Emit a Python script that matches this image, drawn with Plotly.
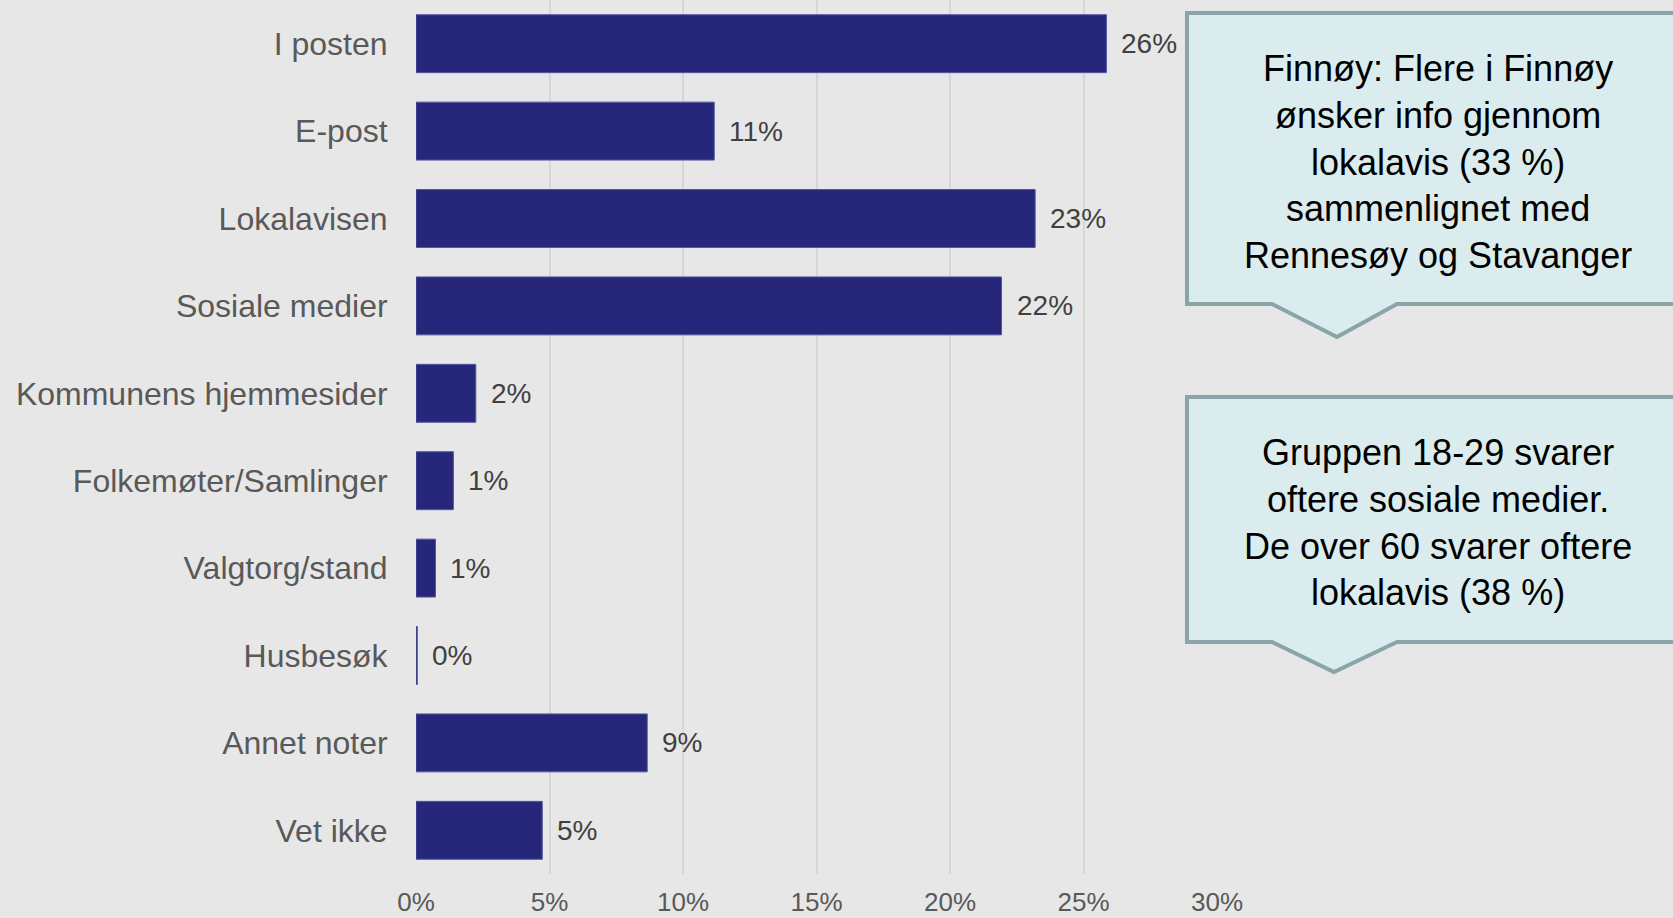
import plotly.graph_objects as go

# survey: preferred info channel
categories = ['I posten', 'E-post', 'Lokalavisen', 'Sosiale medier', 'Kommunens hjemmesider',
              'Folkemøter/Samlinger', 'Valgtorg/stand', 'Husbesøk', 'Annet noter', 'Vet ikke']
shares = [0.2586, 0.1117, 0.2319, 0.2193, 0.0224, 0.0140, 0.0073, 0.0005, 0.0866, 0.0473]

x_ticks = [0, 0.05, 0.10, 0.15, 0.20, 0.25, 0.30]

callout_1 = 'Finnøy: Flere i Finnøy<br>ønsker info gjennom<br>lokalavis (33 %)<br>sammenlignet med<br>Rennesøy og Stavanger'
callout_2 = 'Gruppen 18-29 svarer<br>oftere sosiale medier.<br>De over 60 svarer oftere<br>lokalavis (38 %)'

W, H = 1673, 918
BG = '#e7e7e7'
FONT = 'Liberation Sans, Arial, sans-serif'

fig = go.Figure()
fig.add_trace(go.Bar(
    x=shares, y=categories, orientation='h',
    marker=dict(color='#26267a', line=dict(color='#5558a0', width=1)),
    hoverinfo='x+y'
))

# value labels to the right of each bar
for v, c in zip(shares, categories):
    fig.add_annotation(x=v, y=c, xref='x', yref='y', text=f'{round(v * 100)}%',
                       showarrow=False, xanchor='left', xshift=13,
                       font=dict(size=28, color='#404040', family=FONT))


def px(x, y):
    return f'{x / W:.5f},{1 - y / H:.5f}'


def callout(top, bottom, tip_x, tip_y):
    left, right = 1187, 1710
    pts = [(left, top), (right, top), (right, bottom), (1397, bottom),
           (tip_x, tip_y), (1272, bottom), (left, bottom)]
    return 'M ' + ' L '.join(px(a, b) for a, b in pts) + ' Z'


for path in [callout(13, 304, 1337, 337), callout(397, 642, 1334, 672)]:
    fig.add_shape(type='path', path=path, xref='paper', yref='paper',
                  fillcolor='#daeced', line=dict(color='#8aa4a8', width=4), layer='above')

for txt, cy in [(callout_1, 162), (callout_2, 522)]:
    fig.add_annotation(x=1438 / W, y=1 - cy / H, xref='paper', yref='paper', text=txt,
                       showarrow=False, xanchor='center', yanchor='middle', align='center',
                       font=dict(size=36, color='#000000', family=FONT))

fig.update_layout(
    width=W, height=H,
    margin=dict(l=0, r=0, t=0, b=0),
    paper_bgcolor=BG, plot_bgcolor=BG,
    bargap=0.337,
    showlegend=False,
    font=dict(family=FONT),
    xaxis=dict(domain=[416 / W, 1217 / W], range=[0, 0.30], tickvals=x_ticks,
               tickformat='.0%', showgrid=True, gridcolor='#d6d6d6', gridwidth=1.5,
               zeroline=False, showline=False, ticks='outside', ticklen=5,
               tickcolor='rgba(0,0,0,0)', tickfont=dict(size=26, color='#595959'),
               automargin=False),
    yaxis=dict(domain=[44 / H, 1], autorange='reversed', showgrid=False, zeroline=False,
               showline=False, ticks='outside', ticklen=21, tickcolor='rgba(0,0,0,0)',
               tickfont=dict(size=32, color='#595959'), automargin=False),
)

# drop the default page margin so the chart fills the window
fig.write_html('out.html', config={'displayModeBar': False},
               post_script="document.body.style.margin='0';")
